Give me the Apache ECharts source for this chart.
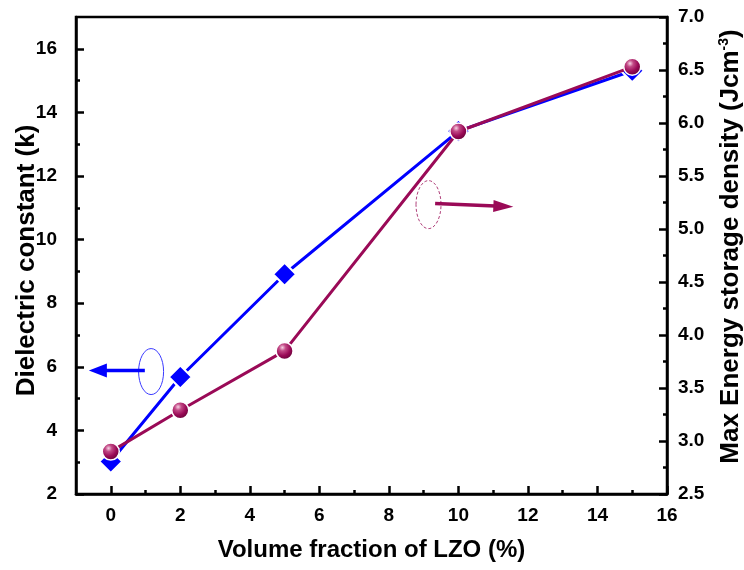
<!DOCTYPE html>
<html><head><meta charset="utf-8">
<script src="https://cdn.jsdelivr.net/npm/echarts@6/dist/echarts.min.js"></script>
<style>html,body{margin:0;padding:0;background:#fff}#c{width:744px;height:570px}</style>
</head><body><div id="c"></div>
<script>
// ---- data ----
const xFraction = [0, 2, 5, 10, 15];
const dielectric = [3.02, 5.68, 8.91, 13.41, 15.31];
const energyDensity = [2.90, 3.29, 3.85, 5.92, 6.53];
const xTickLabels = [0, 2, 4, 6, 8, 10, 12, 14, 16];
const xMinorTicks = [1, 3, 5, 7, 9, 11, 13, 15];
const leftTickLabels = [2, 4, 6, 8, 10, 12, 14, 16];
const leftMinorTicks = [3, 5, 7, 9, 11, 13, 15];
// annotation anchors in data units: [x, y]
const leftNoteEllipse = [1.16, 5.85];
const leftNoteArrow = [[0.98, 5.88], [-0.63, 5.88]];
const rightNoteEllipse = [9.14, 5.23];
const rightNoteArrow = [[9.33, 5.24], [11.58, 5.21]];

const FONT = "'Liberation Sans', Arial, sans-serif";
const BLUE = '#0000ff';
const PURPLE = '#9a0a57';
const AX = 2.5;

const chart = echarts.init(document.getElementById('c'), null, {renderer: 'canvas'});

const lblStyle = {color: '#000', fontFamily: FONT, fontWeight: 'bold', fontSize: 19};

const option = {
  backgroundColor: '#fff',
  animation: false,
  grid: {left: 76, right: 77, top: 17, bottom: 76, containLabel: false, outerBoundsMode: 'none',
    show: true, borderColor: '#000', borderWidth: AX, backgroundColor: 'transparent'},
  xAxis: [{
    type: 'value', min: -1, max: 16,
    name: 'Volume fraction of LZO (%)', nameLocation: 'middle', nameGap: 44, nameMoveOverlap: false,
    nameTextStyle: {color: '#000', fontFamily: FONT, fontWeight: 'bold', fontSize: 24},
    axisLine: {show: true, onZero: false, lineStyle: {color: '#000', width: AX}},
    axisTick: {show: true, inside: true, length: 8, customValues: xTickLabels, lineStyle: {color: '#000', width: AX}},
    axisLabel: Object.assign({customValues: xTickLabels, margin: 12}, lblStyle),
    splitLine: {show: false}
  }, {
    type: 'value', min: -1, max: 16, position: 'bottom',
    axisLine: {show: false, onZero: false},
    axisTick: {show: true, inside: true, length: 4, customValues: xMinorTicks, lineStyle: {color: '#000', width: AX}},
    axisLabel: {show: false},
    splitLine: {show: false}
  }],
  yAxis: [{
    type: 'value', min: 2, max: 17, position: 'left',
    name: 'Dielectric constant (k)', nameLocation: 'middle', nameGap: 36, nameMoveOverlap: false,
    nameTextStyle: {color: '#000', fontFamily: FONT, fontWeight: 'bold', fontSize: 26, padding: [0, 10, 0, 0]},
    axisLine: {show: true, onZero: false, lineStyle: {color: '#000', width: AX}},
    axisTick: {show: true, inside: true, length: 8, customValues: leftTickLabels, lineStyle: {color: '#000', width: AX}},
    axisLabel: Object.assign({customValues: leftTickLabels, margin: 19}, lblStyle),
    splitLine: {show: false}
  }, {
    type: 'value', min: 2.5, max: 7, interval: 0.5, position: 'right',
    name: '{a|Max Energy storage density (Jcm}{s|-3}{a|)}', nameLocation: 'middle', nameGap: 50, nameMoveOverlap: false,
    nameTextStyle: {padding: [0, 0, 0, 18], rich: {
      a: {color: '#000', fontFamily: FONT, fontWeight: 'bold', fontSize: 26, lineHeight: 28},
      s: {color: '#000', fontFamily: FONT, fontWeight: 'bold', fontSize: 14, verticalAlign: 'top', lineHeight: 28, padding: [0, 0, 12, 0]}
    }},
    axisLine: {show: true, onZero: false, lineStyle: {color: '#000', width: AX}},
    axisTick: {show: true, inside: true, length: 8, lineStyle: {color: '#000', width: AX}},
    minorTick: {show: true, splitNumber: 2, length: 4, lineStyle: {color: '#000', width: AX}},
    axisLabel: Object.assign({margin: 11, formatter: v => v.toFixed(1)}, lblStyle),
    splitLine: {show: false}, minorSplitLine: {show: false}
  }, {
    type: 'value', min: 2, max: 17, position: 'left',
    axisLine: {show: false, onZero: false},
    axisTick: {show: true, inside: true, length: 4, customValues: leftMinorTicks, lineStyle: {color: '#000', width: AX}},
    axisLabel: {show: false},
    splitLine: {show: false}
  }],
  series: [{
    type: 'line', xAxisIndex: 0, yAxisIndex: 0,
    data: xFraction.map((x, i) => [x, dielectric[i]]),
    lineStyle: {color: BLUE, width: 3},
    symbol: 'diamond', symbolSize: 23,
    itemStyle: {color: BLUE, borderColor: '#fff', borderWidth: 2},
    z: 2
  }, {
    type: 'line', xAxisIndex: 0, yAxisIndex: 1,
    data: xFraction.map((x, i) => [x, energyDensity[i]]),
    lineStyle: {color: PURPLE, width: 3},
    symbol: 'circle', symbolSize: 17,
    itemStyle: {
      color: {type: 'radial', x: 0.38, y: 0.32, r: 0.72, colorStops: [
        {offset: 0, color: '#f6d2e4'}, {offset: 0.25, color: '#c24a86'}, {offset: 0.6, color: '#9a0a57'}, {offset: 1, color: '#5e0032'}]},
      borderColor: '#fff', borderWidth: 1.5
    },
    z: 3
  }]
};
chart.setOption(option);

function px(yIdx, pt) { return chart.convertToPixel({xAxisIndex: 0, yAxisIndex: yIdx}, pt); }
function arrow(p0, p1, color, headLen, headHalf, width) {
  const dx = p1[0] - p0[0], dy = p1[1] - p0[1];
  const L = Math.hypot(dx, dy), ux = dx / L, uy = dy / L;
  const bx = p1[0] - ux * headLen, by = p1[1] - uy * headLen;
  return [
    {type: 'line', shape: {x1: p0[0], y1: p0[1], x2: bx + ux * 2, y2: by + uy * 2}, style: {stroke: color, lineWidth: width}, z: 10},
    {type: 'polygon', shape: {points: [p1, [bx - uy * headHalf, by + ux * headHalf], [bx + uy * headHalf, by - ux * headHalf]]}, style: {fill: color}, z: 10}
  ];
}
const lc = px(0, leftNoteEllipse);
const rc = px(1, rightNoteEllipse);
const graphics = [
  {type: 'ellipse', shape: {cx: lc[0], cy: lc[1], rx: 12.5, ry: 23}, style: {fill: 'none', stroke: '#3a3aff', lineWidth: 1}, z: 10},
  ...arrow(px(0, leftNoteArrow[0]), px(0, leftNoteArrow[1]), BLUE, 18, 7, 3.5),
  {type: 'ellipse', shape: {cx: rc[0], cy: rc[1], rx: 12.5, ry: 24}, style: {fill: 'none', stroke: '#b0407a', lineWidth: 1, lineDash: [3, 2]}, z: 10},
  ...arrow(px(1, rightNoteArrow[0]), px(1, rightNoteArrow[1]), PURPLE, 20, 6, 3.5)
];
chart.setOption({graphic: graphics});
</script>
</body></html>
